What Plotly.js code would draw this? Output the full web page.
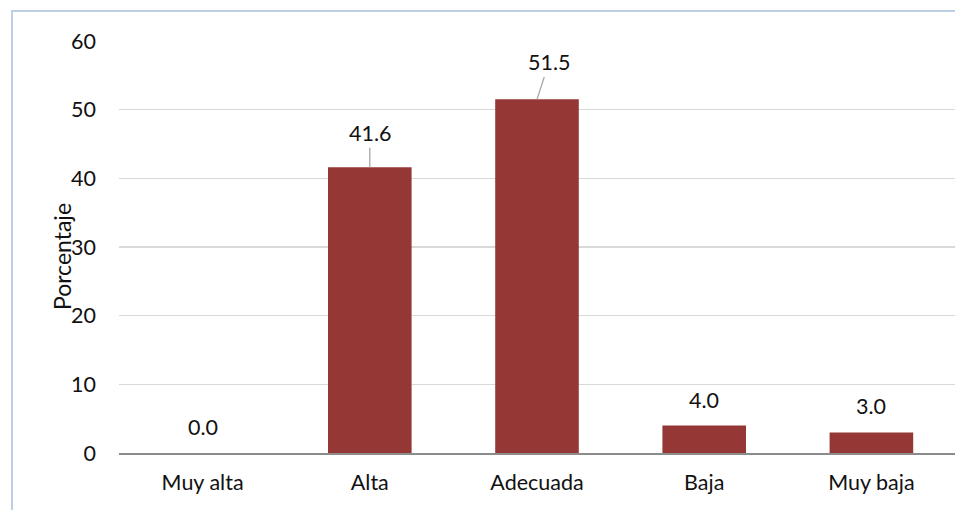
<!DOCTYPE html>
<html>
<head>
<meta charset="utf-8">
<script src="https://cdn.plot.ly/plotly-3.0.1.min.js"></script>
<style>
  html, body { margin: 0; padding: 0; background: #ffffff; }
  #wrap { position: relative; width: 955px; height: 510px; }
  #chart { width: 955px; height: 510px; }
  #frame {
    position: absolute; left: 11px; top: 10px; right: 0; bottom: 0;
    border-left: 2px solid #BCCFE6; border-top: 2px solid #BCCFE6;
    pointer-events: none;
  }
</style>
</head>
<body>
<div id="wrap">
  <div id="chart"></div>
  <div id="frame"></div>
</div>
<script>
// Nivel por categoría (porcentaje)
const categories = ["Muy alta", "Alta", "Adecuada", "Baja", "Muy baja"];
const values = [0.0, 41.6, 51.5, 4.0, 3.0];
const yTicks = [0, 10, 20, 30, 40, 50, 60];
const yTitle = "Porcentaje";

const FONT = "Lato, 'Open Sans', sans-serif";
const TEXT = "#111111";
const SIZE = 21.5;

// Etiquetas: desplazamiento (px) del texto respecto a la parte superior de la barra
const labelOffsets = [
  { ax: 0, ay: -26, line: false },
  { ax: 0, ay: -34, line: true },
  { ax: 12, ay: -37, line: true },
  { ax: 0, ay: -26, line: false },
  { ax: 0, ay: -26, line: false }
];

const annotations = categories.map((c, i) => {
  const o = labelOffsets[i];
  return {
    x: c, y: values[i], xref: "x", yref: "y",
    text: values[i].toFixed(1),
    showarrow: true,
    arrowhead: 0, arrowwidth: 1.3,
    arrowcolor: o.line ? "#A6A6A6" : "rgba(0,0,0,0)",
    standoff: 0,
    ax: o.ax, ay: o.ay, axref: "pixel", ayref: "pixel",
    font: { family: FONT, size: SIZE, color: TEXT }
  };
});

// Título del eje Y, girado y colocado junto a las marcas
annotations.push({
  xref: "paper", yref: "paper",
  x: -0.068, y: 0.476,
  xanchor: "center", yanchor: "middle",
  text: yTitle, textangle: -90,
  showarrow: false,
  font: { family: FONT, size: 23, color: TEXT }
});

const trace = {
  type: "bar",
  x: categories,
  y: values,
  marker: { color: "#953735" },
  width: 0.5,
  hoverinfo: "skip"
};

const layout = {
  width: 955, height: 510,
  margin: { l: 119, r: 0, t: 41, b: 57 },
  paper_bgcolor: "#ffffff",
  plot_bgcolor: "#ffffff",
  showlegend: false,
  font: { family: FONT, size: SIZE, color: TEXT },
  xaxis: {
    type: "category",
    showgrid: false,
    showline: true, linecolor: "#8C8C8C", linewidth: 1.5,
    ticks: "", ticklabelstandoff: 10,
    tickfont: { family: FONT, size: SIZE, color: TEXT },
    zeroline: false
  },
  yaxis: {
    range: [0, 60],
    tickvals: yTicks,
    ticktext: yTicks.map(String),
    showgrid: true, gridcolor: "#D9D9D9", gridwidth: 1.5,
    zeroline: false, showline: false,
    ticks: "", ticklabelstandoff: 22,
    tickfont: { family: FONT, size: SIZE, color: TEXT }
  },
  annotations: annotations
};

Plotly.newPlot("chart", [trace], layout, { displayModeBar: false, staticPlot: true });
</script>
</body>
</html>
